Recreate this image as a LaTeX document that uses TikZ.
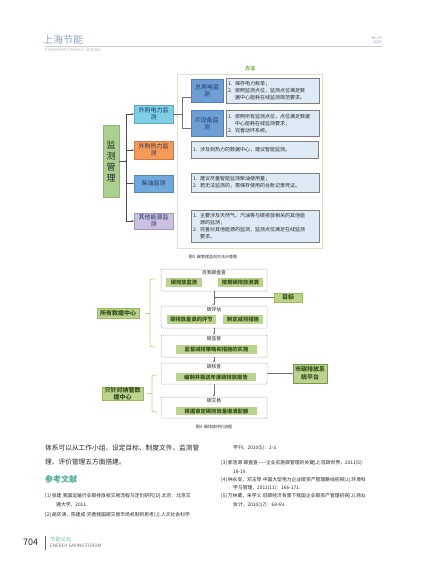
\documentclass[tikz,border=0pt]{standalone}
\usepackage{fontspec}
\setmainfont{Noto Sans CJK SC}
\usetikzlibrary{arrows.meta}
\definecolor{hdrblue}{HTML}{8EA3CB}
\definecolor{hdrgray}{HTML}{B4B8C2}
\definecolor{tealc}{HTML}{4FAE94}
\definecolor{mgreen}{HTML}{A9D18E}
\definecolor{mgreenD}{HTML}{8DB874}
\definecolor{cyanb}{HTML}{7CCFE5}
\definecolor{orangeb}{HTML}{F79A58}
\definecolor{blueb}{HTML}{6FA8DC}
\definecolor{lavb}{HTML}{CCC1E3}
\definecolor{subb}{HTML}{6D9ED6}
\definecolor{subbD}{HTML}{4F7FBF}
\definecolor{tfill}{HTML}{DEEBF7}
\definecolor{tdraw}{HTML}{7F7F7F}
\definecolor{framec}{HTML}{E0E0D0}
\definecolor{fgreen}{HTML}{70AD47}
\definecolor{ogreen}{HTML}{BCD38E}
\definecolor{ogreenD}{HTML}{9BBB59}
\definecolor{otext}{HTML}{33501A}
\definecolor{navy}{HTML}{1F3864}
\definecolor{dashc}{HTML}{A6A6A6}
\definecolor{txt}{HTML}{262626}
\newcommand\itmx[1]{\makebox[7pt][l]{#1}}
\begin{document}
\begin{tikzpicture}[x=1pt,y=-1pt,
  lbl/.style={draw=#1!80!black, fill=#1, line width=0.3pt, inner sep=0pt, align=center,
     font=\fontsize{6}{7}\selectfont, text=navy},
  tbox/.style={draw=tdraw, fill=tfill, line width=0.9pt, inner sep=1.5pt, align=left,
     font=\fontsize{5}{6.8}\selectfont, text=txt},
  c3/.style={draw=black!70, line width=0.45pt},
  dbox/.style={draw=dashc, dashed, dash pattern=on 1.2pt off 0.8pt, line width=0.5pt, rounded corners=1pt, fill=white},
  gbox/.style={fill=ogreen, inner sep=0pt, align=center, font=\bfseries\fontsize{5.3}{6.2}\selectfont, text=otext},
  glbl/.style={fill=ogreen, draw=ogreenD, line width=0.4pt, inner sep=0pt, align=center, font=\bfseries\fontsize{6}{7.6}\selectfont, text=otext},
  ttl/.style={inner sep=0pt, font=\fontsize{4.8}{5.5}\selectfont, text=txt},
  arr/.style={draw=black!55, line width=0.45pt, -{Stealth[length=2.4pt,width=2pt]}},
  brk/.style={draw=ogreen, line width=0.8pt, rounded corners=2pt},
  capt/.style={inner sep=0pt, font=\fontsize{4}{5}\selectfont, text=txt},
  body/.style={inner sep=0pt, anchor=west, font=\fontsize{6.7}{8}\selectfont, text=txt},
  refl/.style={inner sep=0pt, anchor=west, font=\fontsize{4.8}{5.5}\selectfont, text=txt}
]
\useasboundingbox[fill=white] (0,0) rectangle (427,575);

% ---------- header ----------
\node[inner sep=0pt, anchor=west, font=\fontsize{10}{11}\selectfont, text=hdrblue] (hd) at (43,39.5) {上海节能};
\coordinate (hl1) at (45,46);
\coordinate (hl2) at (382,46);
\draw[draw=hdrgray!70, line width=0.4pt] (hl1) -- (hl2);
\node[inner sep=0pt, anchor=west, font=\fontsize{4.4}{5}\selectfont, text=hdrgray] (hde) at (45,49.5) {SHANGHAI ENERGY SAVING};
\node[inner sep=0pt, anchor=east, font=\fontsize{3.8}{4.4}\selectfont, text=hdrblue] (no) at (382,38) {No.05};
\node[inner sep=0pt, anchor=east, font=\fontsize{3.8}{4.4}\selectfont, text=hdrblue] (yr) at (382,42.5) {2023};

% ---------- figure 3 ----------
\node[inner sep=0pt, font=\bfseries\fontsize{5}{6}\selectfont, text=fgreen] (ff) at (250,69) {方法};
\node[draw=framec, line width=0.5pt, minimum width=145pt, minimum height=174pt, inner sep=0pt] (frm) at (249.5,161.5) {};

\node[draw=mgreenD, fill=mgreen, line width=0.3pt, minimum width=16pt, minimum height=72pt, inner sep=0pt,
      align=center, font=\fontsize{9}{11}\selectfont, text=txt] (mg) at (111,161) {监\\测\\管\\理};

\node[lbl=cyanb, minimum width=39pt, minimum height=18pt] (b1) at (153.5,114) {外购电力监\\测};
\node[lbl=orangeb, minimum width=39pt, minimum height=18pt] (b2) at (153.5,150) {外购热力监\\测};
\node[lbl=blueb, minimum width=39pt, minimum height=17pt] (b3) at (153.5,183.5) {柴油监测};
\node[lbl=lavb, minimum width=39pt, minimum height=16pt] (b4) at (153.5,221) {其他能源监\\测};

\node[lbl=subb, draw=subbD, minimum width=32pt, minimum height=23pt] (s1) at (207,90.5) {总用电监\\测};
\node[lbl=subb, draw=subbD, minimum width=32pt, minimum height=26pt] (s2) at (207,123.5) {IT设备监\\测};

\node[tbox, minimum width=93pt, minimum height=25pt, text width=89pt] (t1) at (272.5,90.5)
  {\itmx{1.}保存电力账单；\\\itmx{2.}按照监测点位，监测点位满足数\\\itmx{}据中心能耗在线监测规范要求。};
\node[tbox, minimum width=93pt, minimum height=26pt, text width=89pt] (t2) at (272.5,123.5)
  {\itmx{1.}按照所有监测点位，点位满足数据\\\itmx{}中心能耗在线监测要求；\\\itmx{2.}完善动环系统。};
\node[tbox, minimum width=127pt, minimum height=17pt, text width=123pt] (t3) at (254.5,149.5)
  {\itmx{1.}涉及到热力的数据中心，建议智能监测。};
\node[tbox, minimum width=128pt, minimum height=19pt, text width=124pt] (t4) at (255,182.5)
  {\itmx{1.}建议尽量智能监测柴油使用量；\\\itmx{2.}若无法监测的，需保存使用的台账记录凭证。};
\node[tbox, minimum width=128pt, minimum height=32pt, text width=124pt] (t5) at (255,226)
  {\itmx{1.}主要涉及天然气、汽油等与碳排放相关的其他能\\\itmx{}源的监测；\\\itmx{2.}完善对其他能源的监测，监测点位满足在线监测\\\itmx{}要求。};

\coordinate (tr) at (126,0);
\draw[c3] (mg.east) -- (tr |- mg.east);
\fill[black!70] (tr |- mg.east) circle (0.9pt);
\draw[c3] (tr |- b1.west) -- (tr |- b4.west);
\foreach \b in {b1,b2,b3,b4}{
  \draw[c3, -{Stealth[length=2.2pt,width=1.8pt]}] (tr |- \b.west) -- (\b.west);
}
\coordinate (br) at (182.5,0);
\coordinate (j1) at (182.5,97);
\coordinate (j2) at (182.5,128);
\draw[c3, draw=black!55] (b1.east) -- (br |- b1.east);
\draw[c3, draw=black!55] (j1 -| s1.west) -- (j1) -- (j2) -- (j2 -| s2.west);

\node[capt] (cap3) at (213,257) {图3\ \ 碳管理监测方法示意图};

% ---------- figure 4 ----------
\node[dbox, minimum width=106pt, minimum height=22pt, inner sep=0pt] (f1) at (214,280) {};
\node[ttl] (f1t) at (214,273) {自我碳盘查};
\node[gbox, minimum width=36pt, minimum height=9pt] (g11) at (184,282.5) {碳排放监测};
\node[gbox, minimum width=45pt, minimum height=9pt] (g12) at (240.5,282.5) {按期碳排放测算};

\node[glbl, minimum width=28pt, minimum height=9.5pt] (goal) at (288,297.5) {目标};

\node[dbox, minimum width=106pt, minimum height=22pt, inner sep=0pt] (f2) at (214,317) {};
\node[ttl] (f2t) at (214,310) {碳评估};
\node[gbox, minimum width=49pt, minimum height=9pt] (g21) at (191.5,319.5) {碳排放量高的环节};
\node[gbox, minimum width=40pt, minimum height=9pt] (g22) at (243,319.5) {制定减排措施};

\node[glbl, minimum width=42pt, minimum height=10pt] (all) at (118,313) {所有数据中心};

\node[dbox, minimum width=106pt, minimum height=22pt, inner sep=0pt] (f3) at (214,346) {};
\node[ttl] (f3t) at (214,339) {碳监督};
\node[gbox, minimum width=81pt, minimum height=8.5pt] (g3) at (216.5,349.5) {监督减排策略和措施的实施};

\node[dbox, minimum width=106pt, minimum height=21pt, inner sep=0pt] (f4) at (214,373.5) {};
\node[ttl] (f4t) at (214,367) {碳核查};
\node[gbox, minimum width=80pt, minimum height=8.5pt] (g4) at (216,377) {编制并报送年度碳排放报告};

\node[glbl, draw=ogreenD!80!black, minimum width=34pt, minimum height=19pt] (city) at (310,373.5) {市碳排放系\\统平台};

\node[dbox, minimum width=106pt, minimum height=21pt, inner sep=0pt] (f5) at (214,407.5) {};
\node[ttl] (f5t) at (214,400.5) {碳交易};
\node[gbox, minimum width=81pt, minimum height=8.5pt] (g5) at (216.5,411) {根据审定碳排放量缴清配额};

\node[glbl, minimum width=41pt, minimum height=13pt] (only) at (122.5,393.5) {只针对纳管数\\据中心};

\draw[arr] (f1.south) -- (f2.north);
\draw[arr] (f2.south) -- (f3.north);
\draw[arr] (f3.south) -- (f4.north);
\draw[arr] (f4.south) -- (f5.north);
\draw[arr] (f4.east) -- (city.west);
\draw[arr] (goal.west) -- (f1.south |- goal.west);

\coordinate (k1a) at (155,279);
\coordinate (k1b) at (155,347);
\coordinate (k1m) at (150,313);
\coordinate (k1s) at (145,313);
\draw[brk] (k1a) -- (150,279) -- (150,347) -- (k1b);
\draw[brk] (k1m) -- (k1s);
\coordinate (k2a) at (157,375);
\coordinate (k2b) at (157,412);
\coordinate (k2m) at (152,393.5);
\coordinate (k2s) at (147,393.5);
\draw[brk] (k2a) -- (152,375) -- (152,412) -- (k2b);
\draw[brk] (k2m) -- (k2s);

\node[capt] (cap4) at (214,427) {图4\ \ 碳排放评价流程};

% ---------- body text ----------
\node[body] (p1) at (45,448) {体系可以从工作小组、设定目标、制度文件、监测管};
\node[body] (p2) at (45,462) {理、评价管理五方面搭建。};
\node[inner sep=0pt, anchor=west, font=\bfseries\fontsize{8}{9}\selectfont, text=tealc] (rh) at (45,479) {参考文献};
\node[refl] (r1a) at (45,495.5) {[1]\,张建.我国运输行业碳排放权交易流程与定价研究[D].北京：北京交};
\node[refl] (r1b) at (56,505) {通大学，2011.};
\node[refl] (r2a) at (45,515) {[2]\,胡庆涛，陈建成.完善我国碳交易市场机制的思考[J].人文社会科学};
\node[refl] (r2b) at (233,448) {学刊，2010(5)：1-3.};
\node[refl] (r3a) at (221,462.5) {[3]\,郭浩源.碳盘查——企业实施碳管理的关键[J].低碳世界，2011(5)：};
\node[refl] (r3b) at (233,471.5) {18-19.};
\node[refl] (r4a) at (221,479.5) {[4]\,钟永安，邓玉琴.中国大型电力企业碳资产管理路线初探[J].环境科};
\node[refl] (r4b) at (233,488) {学与管理，2011(11)：166-171.};
\node[refl] (r5a) at (221,496) {[5]\,万林葳，朱学义.低碳经济背景下我国企业碳资产管理初探[J].商业};
\node[refl] (r5b) at (233,505) {会计，2010(17)：68-69.};

% ---------- footer ----------
\node[inner sep=0pt, anchor=west, font=\fontsize{9}{10}\selectfont, text=txt] (pg) at (23,542.5) {704};
\coordinate (vb1) at (45,536);
\coordinate (vb2) at (45,550);
\draw[draw=black!60, line width=0.4pt] (vb1) -- (vb2);
\node[inner sep=0pt, anchor=west, font=\fontsize{5.3}{6}\selectfont, text=tealc!80] (ft1) at (50,539) {节能论坛};
\node[inner sep=0pt, anchor=west, font=\fontsize{4.6}{5}\selectfont, text=black!55] (ft2) at (50,546) {ENERGY SAVING FORUM};
\end{tikzpicture}
\end{document}
